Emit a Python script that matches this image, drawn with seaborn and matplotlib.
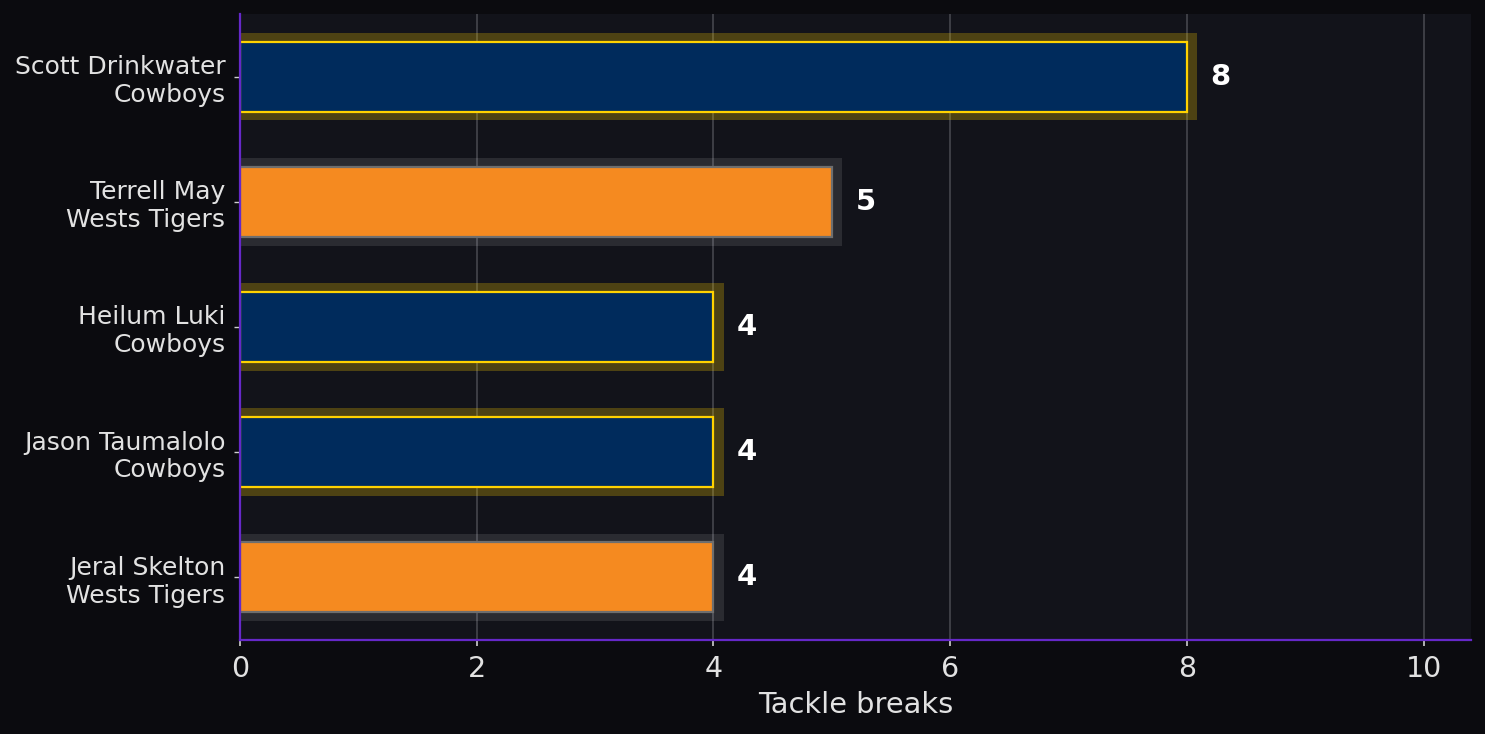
import matplotlib
matplotlib.use("Agg")
import matplotlib.pyplot as plt
import seaborn as sns
import pandas as pd

# data
players = ["Scott Drinkwater", "Terrell May", "Heilum Luki", "Jason Taumalolo", "Jeral Skelton"]
teams = ["Cowboys", "Wests Tigers", "Cowboys", "Cowboys", "Wests Tigers"]
tackle_breaks = [8, 5, 4, 4, 4]

team_fill = {"Cowboys": "#002b5c", "Wests Tigers": "#f58a20"}
team_edge = {"Cowboys": "#ffd200", "Wests Tigers": "#6e6e6e"}
team_glow = {"Cowboys": ("#ffd200", 0.25), "Wests Tigers": ("#ffffff", 0.10)}

labels = [f"{p}\n{t}" for p, t in zip(players, teams)]
df = pd.DataFrame({"label": labels, "team": teams, "value": tackle_breaks})
glow_pad = 0.085
df["glow"] = df["value"] + glow_pad

fig_bg = "#0b0b0f"
ax_bg = "#12131a"
text_col = "#e2e2e2"
spine_col = "#6528c8"

sns.set_theme(style="dark")
plt.rcParams["font.family"] = ["DejaVu Sans"]

fig = plt.figure(figsize=(14.85, 7.34), dpi=100, facecolor=fig_bg)
ax = fig.add_axes([0.1616, 0.1281, 0.829, 0.8528])
ax.set_facecolor(ax_bg)

# glow behind bars
for team in team_fill:
    sub = df[df["team"] == team]
    col, a = team_glow[team]
    sns.barplot(data=sub, x="glow", y="label", order=labels, color=col, alpha=a,
                width=0.70, linewidth=0, saturation=1, ax=ax, zorder=2, errorbar=None)

# main bars
for team in team_fill:
    sub = df[df["team"] == team]
    sns.barplot(data=sub, x="value", y="label", order=labels, color=team_fill[team],
                edgecolor=team_edge[team], linewidth=1.6, width=0.56, saturation=1,
                ax=ax, zorder=3, errorbar=None)

# value labels
for i, v in enumerate(tackle_breaks):
    ax.text(v + 0.2, i, str(v), color="white", fontsize=21, fontweight="bold",
            va="center", ha="left", zorder=4)

ax.set_xlim(0, 10.4)
ax.set_ylim(4.5, -0.5)
ax.set_xticks([0, 2, 4, 6, 8, 10])
ax.set_xlabel("Tackle breaks", color=text_col, fontsize=20.8, labelpad=6)
ax.set_ylabel("")

ax.grid(axis="x", color="#45464d", linewidth=1.2, zorder=0)
ax.grid(axis="y", visible=False)
ax.set_axisbelow(True)

ax.tick_params(axis="x", colors="#cfcfcf", labelcolor=text_col, labelsize=20.5,
               length=4.5, width=1.2, pad=6, bottom=True)
ax.tick_params(axis="y", colors="#cfcfcf", labelcolor=text_col, labelsize=18,
               length=4, width=1, pad=6.5, left=True)

for side in ["top", "right"]:
    ax.spines[side].set_visible(False)
for side in ["left", "bottom"]:
    ax.spines[side].set_visible(True)
    ax.spines[side].set_color(spine_col)
    ax.spines[side].set_linewidth(1.6)
    ax.spines[side].set_zorder(5)

fig.savefig("out.png", dpi=100, facecolor=fig_bg)
